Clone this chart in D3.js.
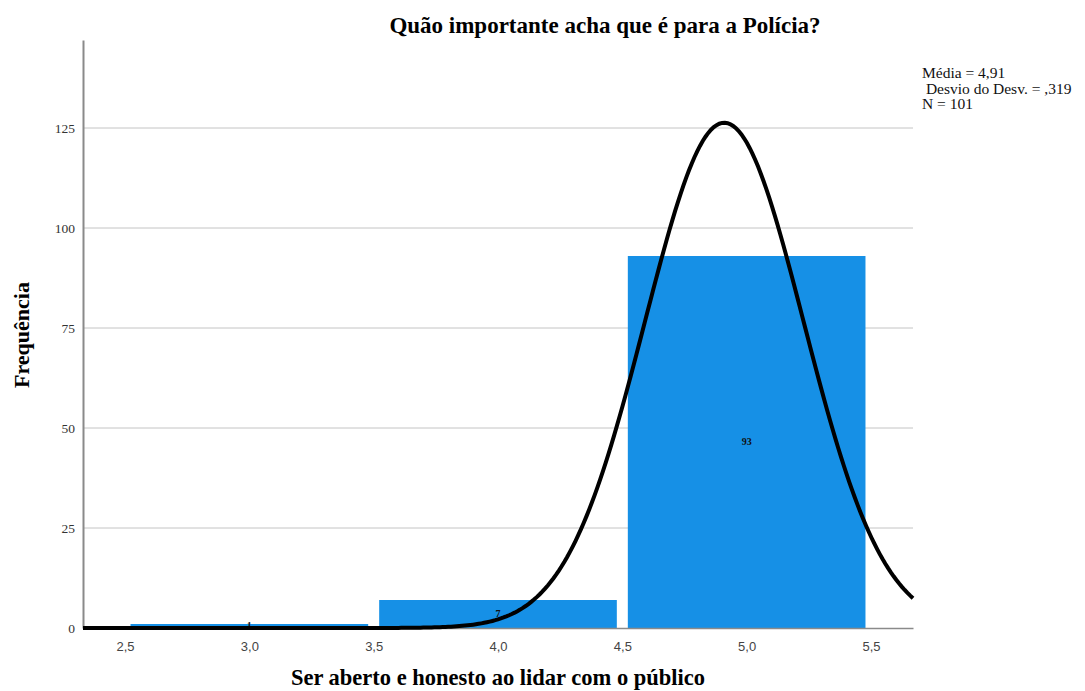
<!DOCTYPE html>
<html>
<head>
<meta charset="utf-8">
<script src="https://cdn.jsdelivr.net/npm/d3@7"></script>
<style>
  body { margin: 0; background: #fff; }
  svg { display: block; }
</style>
</head>
<body>
<svg id="chart" width="1085" height="691"></svg>
<script>
// ---- Data ----
const binStarts = [2.5, 3.5, 4.5];
const binWidth = 1;
const counts = [1, 7, 93];
const xTicks = [2.5, 3.0, 3.5, 4.0, 4.5, 5.0, 5.5];
const yTicks = [0, 25, 50, 75, 100, 125];
const mean = 4.91;
const sd = 0.319;
const n = 101;
const legendLines = ["Média = 4,91", " Desvio do Desv. = ,319", "N = 101"];
const title = "Quão importante acha que é para a Polícia?";
const xTitle = "Ser aberto e honesto ao lidar com o público";
const yTitle = "Frequência";

// ---- Layout ----
const svg = d3.select("#chart");
const pL = 83, pR = 913, pT = 40, pB = 628;

const x = d3.scaleLinear().domain([2.331, 5.669]).range([pL, pR]);
const y = d3.scaleLinear().domain([0, 147]).range([pB, pT]);

// gridlines
svg.append("g")
  .selectAll("line")
  .data(yTicks.filter(d => d > 0))
  .join("line")
  .attr("x1", pL).attr("x2", pR)
  .attr("y1", d => y(d)).attr("y2", d => y(d))
  .attr("stroke", "#c4c4c4").attr("stroke-width", 1);

// bars
const inset = 5.5;
const binData = binStarts.map((s, i) => ({s, c: counts[i]}));
svg.append("g")
  .selectAll("rect")
  .data(binData)
  .join("rect")
  .attr("x", d => x(d.s) + inset)
  .attr("width", d => x(d.s + binWidth) - x(d.s) - 2 * inset)
  .attr("y", d => y(d.c))
  .attr("height", d => y(0) - y(d.c))
  .attr("fill", "#1690e6");

// bar labels
svg.append("g")
  .selectAll("text")
  .data(binData)
  .join("text")
  .attr("x", d => x(d.s + binWidth / 2))
  .attr("y", d => (y(d.c) + y(0)) / 2 + 3)
  .attr("text-anchor", "middle")
  .attr("font-family", "Liberation Serif, serif")
  .attr("font-weight", "bold")
  .attr("font-size", 10)
  .attr("fill", "#111")
  .text(d => d.c);

// axes
const xAxis = d3.axisBottom(x).tickValues(xTicks)
  .tickFormat(d => d3.format(".1f")(d).replace(".", ","))
  .tickSize(0).tickPadding(14);
const gx = svg.append("g").attr("transform", `translate(0,${pB})`).call(xAxis);
gx.select(".domain").attr("stroke", "#8a8a8a").attr("stroke-width", 1.5);
gx.selectAll("text").attr("font-family", "Liberation Sans, Arial, sans-serif").attr("font-size", 13).attr("fill", "#444");

const yAxis = d3.axisLeft(y).tickValues(yTicks).tickSize(0).tickPadding(8);
const gy = svg.append("g").attr("transform", `translate(${pL},0)`).call(yAxis);
gy.select(".domain").attr("stroke", "#8a8a8a").attr("stroke-width", 2);
gy.selectAll("text").attr("font-family", "Liberation Serif, serif").attr("font-size", 13.5).attr("fill", "#333");

// normal curve (from mean, sd, N and bin width)
const [d0, d1] = x.domain();
const xs = d3.range(0, 301).map(i => d0 + (d1 - d0) * i / 300);
const dens = v => n * binWidth / (sd * Math.sqrt(2 * Math.PI)) * Math.exp(-0.5 * ((v - mean) / sd) ** 2);
svg.append("path")
  .datum(xs)
  .attr("d", d3.line().x(d => x(d)).y(d => y(dens(d))))
  .attr("fill", "none")
  .attr("stroke", "#000")
  .attr("stroke-width", 4);

// titles
svg.append("text")
  .attr("x", 605).attr("y", 33)
  .attr("text-anchor", "middle")
  .attr("font-family", "Liberation Serif, serif")
  .attr("font-weight", "bold").attr("font-size", 23)
  .text(title);

svg.append("text")
  .attr("x", 498).attr("y", 685)
  .attr("text-anchor", "middle")
  .attr("font-family", "Liberation Serif, serif")
  .attr("font-weight", "bold").attr("font-size", 22.5)
  .text(xTitle);

svg.append("text")
  .attr("transform", `translate(29,335) rotate(-90)`)
  .attr("text-anchor", "middle")
  .attr("font-family", "Liberation Serif, serif")
  .attr("font-weight", "bold").attr("font-size", 22)
  .text(yTitle);

// legend
svg.append("g")
  .selectAll("text")
  .data(legendLines)
  .join("text")
  .attr("x", 922)
  .attr("y", (d, i) => 78 + i * 15.5)
  .attr("font-family", "Liberation Serif, serif")
  .attr("font-size", 15.5)
  .style("white-space", "pre")
  .attr("fill", "#111")
  .text(d => d);
</script>
</body>
</html>
